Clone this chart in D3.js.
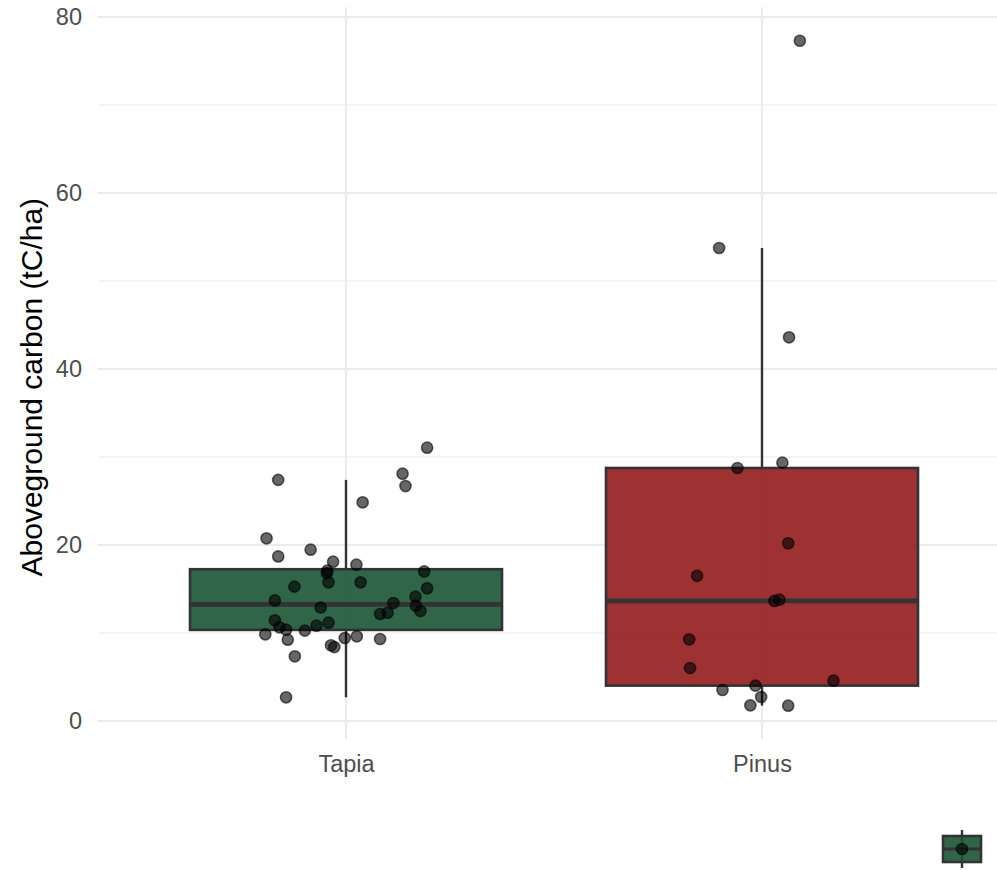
<!DOCTYPE html>
<html>
<head>
<meta charset="utf-8">
<script src="https://cdn.jsdelivr.net/npm/d3@7"></script>
<style>
  html, body { margin: 0; padding: 0; background: #fff; }
  svg { display: block; font-family: "Liberation Sans", Arial, sans-serif; }
</style>
</head>
<body>
<div id="chart"></div>
<script>
// ---- data ----
const categories = ["Tapia", "Pinus"];
const tapiaCarbon = [31.06, 27.4, 28.1, 26.7, 24.85, 20.76, 19.47, 18.7, 18.1, 17.76,
  17.08, 16.8, 17.0, 15.76, 15.76, 15.27, 15.08, 14.13, 13.4, 13.7,
  12.9, 13.1, 12.5, 12.3, 12.16, 11.44, 10.65, 10.38, 10.83, 11.17,
  10.27, 9.85, 9.24, 9.43, 9.62, 9.32, 8.6, 8.4, 7.35, 2.69];
const tapiaJitter = [0.195, -0.163, 0.136, 0.143, 0.040, -0.191, -0.085, -0.163, -0.031, 0.025,
  -0.045, -0.046, 0.188, -0.042, 0.035, -0.124, 0.195, 0.167, 0.114, -0.171,
  -0.061, 0.168, 0.179, 0.100, 0.082, -0.171, -0.160, -0.144, -0.071, -0.042,
  -0.099, -0.194, -0.140, -0.003, 0.026, 0.082, -0.036, -0.028, -0.123, -0.144];
const pinusCarbon = [77.3, 53.75, 43.6, 28.75, 29.36, 20.19, 16.5, 13.64, 13.79,
  9.28, 6.02, 4.58, 4.02, 3.52, 2.73, 1.78, 1.74];
const pinusJitter = [0.091, -0.103, 0.065, -0.059, 0.049, 0.063, -0.156, 0.030, 0.042,
  -0.175, -0.173, 0.172, -0.016, -0.095, -0.002, -0.028, 0.063];
const fillColors = ["#1a5434", "#931b1b"];
const yTicks = [0, 20, 40, 60, 80];
const yMinorTicks = [10, 30, 50, 70];
const yTitle = "Aboveground carbon (tC/ha)";

// ---- layout ----
const W = 997, H = 870;
const svg = d3.select("#chart").append("svg").attr("width", W).attr("height", H);

const x = d3.scalePoint().domain(categories).range([96.4, 1011.6]).padding(0.6);
const step = x.step();
const y = d3.scaleLinear().domain([0, 80]).range([721, 17]);

const panelTop = y(81.1), panelBottom = y(-2.05);
const panelLeft = 98, panelRight = W;

// grid
const grid = svg.append("g");
grid.selectAll("line.minor").data(yMinorTicks).join("line")
  .attr("x1", panelLeft).attr("x2", panelRight)
  .attr("y1", d => y(d)).attr("y2", d => y(d))
  .attr("stroke", "#ebebeb").attr("stroke-width", 1.1);
grid.selectAll("line.major").data(yTicks).join("line")
  .attr("x1", panelLeft).attr("x2", panelRight)
  .attr("y1", d => y(d)).attr("y2", d => y(d))
  .attr("stroke", "#ebebeb").attr("stroke-width", 2.1);
grid.selectAll("line.vx").data(categories).join("line")
  .attr("x1", d => x(d)).attr("x2", d => x(d))
  .attr("y1", panelTop).attr("y2", panelBottom)
  .attr("stroke", "#ebebeb").attr("stroke-width", 2.1);

// y axis labels
const yAxis = d3.axisLeft(y).tickValues(yTicks).tickSize(0).tickPadding(0);
const yg = svg.append("g").attr("transform", "translate(82,0)").call(yAxis);
yg.select(".domain").remove();
yg.selectAll("text").attr("font-size", 23.5).attr("fill", "#4d4d4d")
  .attr("font-family", "Liberation Sans, Arial, sans-serif");

// x axis labels
const xAxis = d3.axisBottom(x).tickSize(0).tickPadding(0);
const xg = svg.append("g").attr("transform", "translate(0,755)").call(xAxis);
xg.select(".domain").remove();
xg.selectAll("text").attr("font-size", 23.5).attr("fill", "#4d4d4d")
  .attr("font-family", "Liberation Sans, Arial, sans-serif");

// y title
svg.append("text")
  .attr("transform", `translate(42,${(panelTop + panelBottom) / 2 + 14}) rotate(-90)`)
  .attr("text-anchor", "middle")
  .attr("font-size", 30)
  .attr("fill", "#000")
  .text(yTitle);

// ---- boxplots ----
const groups = [
  { cat: categories[0], vals: tapiaCarbon, jit: tapiaJitter, fill: fillColors[0] },
  { cat: categories[1], vals: pinusCarbon, jit: pinusJitter, fill: fillColors[1] }
];
function stats(vals) {
  const s = vals.slice().sort(d3.ascending);
  const q1 = d3.quantile(s, 0.25), med = d3.quantile(s, 0.5), q3 = d3.quantile(s, 0.75);
  const iqr = q3 - q1;
  const lo = d3.min(s.filter(v => v >= q1 - 1.5 * iqr));
  const hi = d3.max(s.filter(v => v <= q3 + 1.5 * iqr));
  return { q1, med, q3, lo, hi };
}
const boxW = step * 0.75;
const bg = svg.append("g");
groups.forEach(g => {
  const st = stats(g.vals);
  const cx = x(g.cat);
  bg.append("line").attr("x1", cx).attr("x2", cx).attr("y1", y(st.q3)).attr("y2", y(st.hi))
    .attr("stroke", "#333").attr("stroke-width", 2.4);
  bg.append("line").attr("x1", cx).attr("x2", cx).attr("y1", y(st.q1)).attr("y2", y(st.lo))
    .attr("stroke", "#333").attr("stroke-width", 2.4);
  bg.append("rect").attr("x", cx - boxW / 2).attr("width", boxW)
    .attr("y", y(st.q3)).attr("height", y(st.q1) - y(st.q3))
    .attr("fill", g.fill).attr("fill-opacity", 0.9)
    .attr("stroke", "#333").attr("stroke-width", 2.6);
  bg.append("line").attr("x1", cx - boxW / 2).attr("x2", cx + boxW / 2)
    .attr("y1", y(st.med)).attr("y2", y(st.med))
    .attr("stroke", "#333").attr("stroke-width", 4.8);
});

// ---- jittered points ----
const pg = svg.append("g");
groups.forEach(g => {
  pg.selectAll(null).data(g.vals.map((v, i) => ({ v, j: g.jit[i] }))).join("circle")
    .attr("cx", d => x(g.cat) + d.j * step)
    .attr("cy", d => y(d.v))
    .attr("r", 5.6)
    .attr("fill", "#000").attr("fill-opacity", 0.6)
    .attr("stroke", "#000").attr("stroke-opacity", 0.6).attr("stroke-width", 1.5);
});

// ---- legend key (bottom right) ----
const lg = svg.append("g").attr("transform", "translate(962,849)");
lg.append("line").attr("x1", 0).attr("x2", 0).attr("y1", -19).attr("y2", 19)
  .attr("stroke", "#333").attr("stroke-width", 2.4);
lg.append("rect").attr("x", -19).attr("y", -13).attr("width", 38).attr("height", 26)
  .attr("fill", fillColors[0]).attr("fill-opacity", 0.9)
  .attr("stroke", "#333").attr("stroke-width", 2.6);
lg.append("line").attr("x1", -19).attr("x2", 19).attr("y1", 0).attr("y2", 0)
  .attr("stroke", "#333").attr("stroke-width", 3);
lg.append("circle").attr("r", 5.6)
  .attr("fill", "#000").attr("fill-opacity", 0.6)
  .attr("stroke", "#000").attr("stroke-opacity", 0.6).attr("stroke-width", 1.5);
</script>
</body>
</html>
